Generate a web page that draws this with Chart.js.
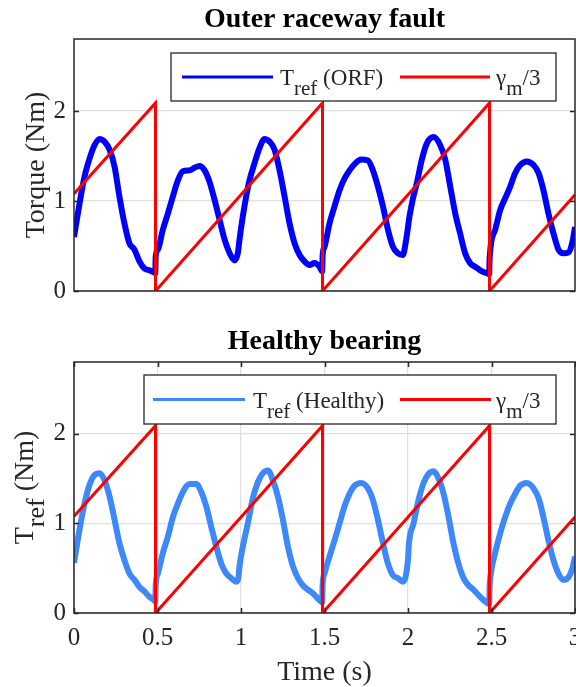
<!DOCTYPE html>
<html>
<head>
<meta charset="utf-8">
<script src="https://cdn.jsdelivr.net/npm/chart.js@4.4.1/dist/chart.umd.min.js"></script>
<style>
  html, body { margin: 0; padding: 0; background: #fff; }
  #wrap { position: relative; width: 576px; height: 687px; }
  canvas { position: absolute; left: 0; }
</style>
</head>
<body>
<div id="wrap">
  <canvas id="orf-chart" width="576" height="320" style="top:0px"></canvas>
  <canvas id="healthy-chart" width="576" height="367" style="top:320px"></canvas>
</div>
<script>
// tick values
const xTicks = [0, 0.5, 1, 1.5, 2, 2.5, 3];
const yTicks = [0, 1, 2];

// gamma_m / 3 sawtooth [time s, value]
const gammaTrace = [[0, 1.08], [0.488, 2.09], [0.488, 0], [1.488, 2.09], [1.488, 0], [2.488, 2.09], [2.488, 0], [3, 1.07]];

// T_ref with outer raceway fault [time s, torque Nm]
const orfTrace = [
  [0, 0.60], [0.033, 0.97], [0.063, 1.27], [0.093, 1.47], [0.123, 1.62], [0.153, 1.69], [0.183, 1.66], [0.213, 1.57],
  [0.243, 1.38], [0.272, 1.05], [0.302, 0.75], [0.332, 0.53], [0.362, 0.46], [0.392, 0.33], [0.422, 0.25], [0.452, 0.23],
  [0.476, 0.21], [0.487, 0.20], [0.489, 0.38], [0.502, 0.46], [0.532, 0.68], [0.562, 0.86], [0.592, 1.05], [0.622, 1.23],
  [0.652, 1.33], [0.692, 1.34], [0.722, 1.37], [0.752, 1.39], [0.782, 1.34], [0.812, 1.21], [0.842, 1.01], [0.872, 0.79],
  [0.902, 0.57], [0.932, 0.42], [0.961, 0.34], [0.981, 0.42], [0.991, 0.57], [1.011, 0.83], [1.031, 1.05], [1.051, 1.23],
  [1.081, 1.42], [1.111, 1.59], [1.141, 1.69], [1.171, 1.66], [1.201, 1.57], [1.231, 1.34], [1.261, 1.05], [1.291, 0.75],
  [1.321, 0.53], [1.351, 0.40], [1.380, 0.33], [1.410, 0.29], [1.440, 0.31], [1.470, 0.27], [1.486, 0.22], [1.489, 0.40],
  [1.500, 0.49], [1.530, 0.75], [1.560, 0.94], [1.590, 1.12], [1.620, 1.25], [1.650, 1.34], [1.680, 1.41], [1.720, 1.46],
  [1.760, 1.45], [1.790, 1.34], [1.820, 1.16], [1.850, 0.94], [1.880, 0.68], [1.910, 0.49], [1.939, 0.42], [1.969, 0.40],
  [1.989, 0.57], [2.009, 0.83], [2.030, 1.03], [2.053, 1.20], [2.083, 1.46], [2.113, 1.64], [2.153, 1.71], [2.193, 1.62],
  [2.223, 1.46], [2.253, 1.16], [2.283, 0.86], [2.312, 0.64], [2.342, 0.42], [2.372, 0.31], [2.402, 0.27], [2.432, 0.23],
  [2.468, 0.20], [2.486, 0.19], [2.489, 0.37], [2.522, 0.68], [2.552, 0.90], [2.582, 1.03], [2.612, 1.16], [2.642, 1.31],
  [2.672, 1.40], [2.712, 1.44], [2.752, 1.40], [2.782, 1.31], [2.811, 1.12], [2.841, 0.86], [2.871, 0.64], [2.901, 0.46],
  [2.931, 0.42], [2.961, 0.43], [2.985, 0.55], [3.000, 0.71]
];

// T_ref healthy bearing [time s, torque Nm]
const healthyTrace = [
  [0, 0.56], [0.033, 0.93], [0.063, 1.22], [0.093, 1.43], [0.123, 1.54], [0.153, 1.56], [0.183, 1.48], [0.213, 1.30],
  [0.243, 1.04], [0.272, 0.78], [0.302, 0.59], [0.332, 0.44], [0.362, 0.37], [0.392, 0.29], [0.422, 0.24], [0.452, 0.18],
  [0.476, 0.15], [0.487, 0.13], [0.489, 0.30], [0.502, 0.44], [0.532, 0.67], [0.562, 0.85], [0.592, 1.07], [0.622, 1.22],
  [0.652, 1.35], [0.692, 1.44], [0.732, 1.44], [0.762, 1.35], [0.792, 1.19], [0.822, 0.96], [0.852, 0.74], [0.882, 0.55],
  [0.912, 0.44], [0.941, 0.39], [0.971, 0.35], [0.985, 0.40], [0.991, 0.52], [1.011, 0.74], [1.041, 1.00], [1.071, 1.28],
  [1.101, 1.46], [1.131, 1.56], [1.161, 1.59], [1.191, 1.48], [1.221, 1.30], [1.251, 1.04], [1.281, 0.74], [1.311, 0.52],
  [1.341, 0.39], [1.370, 0.31], [1.400, 0.26], [1.430, 0.22], [1.466, 0.15], [1.486, 0.12], [1.489, 0.32], [1.500, 0.44],
  [1.530, 0.63], [1.560, 0.81], [1.590, 1.00], [1.620, 1.19], [1.650, 1.33], [1.680, 1.42], [1.720, 1.45], [1.760, 1.39],
  [1.790, 1.26], [1.820, 1.04], [1.850, 0.78], [1.880, 0.55], [1.910, 0.42], [1.939, 0.39], [1.969, 0.35], [1.985, 0.40],
  [2.000, 0.60], [2.006, 0.78], [2.033, 1.00], [2.063, 1.26], [2.093, 1.45], [2.123, 1.55], [2.153, 1.58], [2.183, 1.50],
  [2.213, 1.33], [2.243, 1.07], [2.272, 0.78], [2.302, 0.55], [2.332, 0.39], [2.362, 0.31], [2.392, 0.26], [2.422, 0.20],
  [2.462, 0.13], [2.486, 0.10], [2.489, 0.30], [2.496, 0.44], [2.522, 0.67], [2.552, 0.89], [2.582, 1.07], [2.612, 1.22],
  [2.642, 1.33], [2.672, 1.42], [2.712, 1.45], [2.752, 1.39], [2.782, 1.28], [2.811, 1.07], [2.841, 0.81], [2.871, 0.59],
  [2.901, 0.44], [2.931, 0.37], [2.961, 0.40], [2.985, 0.50], [3.000, 0.63]
];

const FONT = '"Liberation Serif", "Times New Roman", serif';
const INK = '#262626';
const GRID = '#dfdfdf';

Chart.defaults.font.family = FONT;
Chart.defaults.color = INK;

function toPoints(trace) {
  return trace.map(p => ({ x: p[0], y: p[1] }));
}

// draws text pieces, some of them as subscripts, returns end x
function drawRich(ctx, parts, x, y, size, subSize, subDrop) {
  parts.forEach(p => {
    ctx.font = (p.sub ? subSize : size) + 'px ' + FONT;
    ctx.fillText(p.t, x, p.sub ? y + subDrop : y);
    x += ctx.measureText(p.t).width;
  });
  return x;
}

function richWidth(ctx, parts, size, subSize) {
  let w = 0;
  parts.forEach(p => {
    ctx.font = (p.sub ? subSize : size) + 'px ' + FONT;
    w += ctx.measureText(p.t).width;
  });
  return w;
}

// matlab-like box, inward ticks, titles and legend
const axesDecor = {
  id: 'axesDecor',
  afterDatasetsDraw(chart, args, opts) {
    const ctx = chart.ctx;
    const a = chart.chartArea;
    const x = chart.scales.x;
    const y = chart.scales.y;
    const cx = (a.left + a.right) / 2;
    ctx.save();

    // legend box
    const lg = opts.legend;
    ctx.fillStyle = '#fff';
    ctx.fillRect(lg.box[0], lg.box[1], lg.box[2] - lg.box[0], lg.box[3] - lg.box[1]);
    ctx.strokeStyle = INK;
    ctx.lineWidth = 1.3;
    ctx.strokeRect(lg.box[0], lg.box[1], lg.box[2] - lg.box[0], lg.box[3] - lg.box[1]);
    const midY = (lg.box[1] + lg.box[3]) / 2;
    lg.items.forEach(it => {
      ctx.strokeStyle = it.color;
      ctx.lineWidth = 3;
      ctx.beginPath();
      ctx.moveTo(it.line[0], midY);
      ctx.lineTo(it.line[1], midY);
      ctx.stroke();
      ctx.fillStyle = INK;
      ctx.textAlign = 'left';
      ctx.textBaseline = 'alphabetic';
      drawRich(ctx, it.parts, it.textX, midY + 8, 23, 21, 10);
    });

    // box around plot
    ctx.strokeStyle = INK;
    ctx.lineWidth = 1.5;
    ctx.strokeRect(a.left, a.top, a.right - a.left, a.bottom - a.top);

    // inward tick marks
    ctx.beginPath();
    yTicks.forEach(v => {
      const py = Math.round(y.getPixelForValue(v)) + 0.5;
      ctx.moveTo(a.left, py); ctx.lineTo(a.left + 5, py);
      ctx.moveTo(a.right, py); ctx.lineTo(a.right - 5, py);
    });
    if (opts.xTickMarks) {
      xTicks.forEach(v => {
        const px = Math.round(x.getPixelForValue(v)) + 0.5;
        ctx.moveTo(px, a.bottom); ctx.lineTo(px, a.bottom - 5);
        ctx.moveTo(px, a.top); ctx.lineTo(px, a.top + 5);
      });
    }
    ctx.stroke();

    // title
    ctx.fillStyle = '#000';
    ctx.textAlign = 'center';
    ctx.textBaseline = 'alphabetic';
    ctx.font = 'bold 28px ' + FONT;
    ctx.fillText(opts.title, cx, opts.titleY);

    // y axis title, rotated
    ctx.fillStyle = INK;
    ctx.textAlign = 'left';
    const w = richWidth(ctx, opts.yTitle, 28, 26);
    ctx.translate(opts.yTitleX, (a.top + a.bottom) / 2);
    ctx.rotate(-Math.PI / 2);
    drawRich(ctx, opts.yTitle, -w / 2, 0, 28, 26, 11);
    ctx.setTransform(1, 0, 0, 1, 0, 0);

    // x axis title
    if (opts.xTitle) {
      ctx.textAlign = 'center';
      ctx.font = '28px ' + FONT;
      ctx.fillText(opts.xTitle, cx, opts.xTitleY);
    }
    ctx.restore();
  }
};

function makeScales(showX) {
  return {
    x: {
      type: 'linear',
      min: 0,
      max: 3,
      display: showX,
      afterBuildTicks: s => { s.ticks = xTicks.map(v => ({ value: v })); },
      afterFit: s => {
        s.height = showX ? 74 : 0;
        s.paddingLeft = 0;
        s.paddingRight = 0;
      },
      grid: { color: GRID, lineWidth: 1.2, drawTicks: false },
      border: { display: false },
      ticks: { padding: 10, font: { size: 25 }, color: INK, maxRotation: 0, callback: v => String(v) }
    },
    y: {
      type: 'linear',
      min: 0,
      max: 2.8,
      afterBuildTicks: s => { s.ticks = yTicks.map(v => ({ value: v })); },
      afterFit: s => {
        s.width = 74;
        s.paddingTop = 0;
        s.paddingBottom = 0;
      },
      grid: { color: GRID, lineWidth: 1.2, drawTicks: false },
      border: { display: false },
      ticks: { padding: 8, font: { size: 25 }, color: INK, callback: v => String(v) }
    }
  };
}

function renderPanel(id, trace, color, cfg) {
  const ctx = document.getElementById(id).getContext('2d');
  new Chart(ctx, {
    type: 'line',
    data: {
      datasets: [
        {
          label: 'T_ref',
          data: toPoints(trace),
          borderColor: color,
          borderWidth: 6,
          pointRadius: 0,
          cubicInterpolationMode: 'monotone',
          order: 2
        },
        {
          label: 'gamma_m/3',
          data: toPoints(gammaTrace),
          borderColor: '#ff0000',
          borderWidth: 3,
          pointRadius: 0,
          tension: 0,
          order: 1
        }
      ]
    },
    options: {
      responsive: false,
      animation: false,
      devicePixelRatio: 1,
      layout: { padding: cfg.padding },
      scales: makeScales(cfg.showX),
      plugins: {
        legend: { display: false },
        tooltip: { enabled: false },
        axesDecor: cfg.decor
      }
    },
    plugins: [axesDecor]
  });
}

// top panel: outer raceway fault
renderPanel('orf-chart', orfTrace, '#0000ff', {
  showX: false,
  padding: { left: 0, right: 1, top: 39, bottom: 29 },
  decor: {
    title: 'Outer raceway fault',
    titleY: 27,
    yTitle: [{ t: 'Torque (Nm)' }],
    yTitleX: 44,
    xTickMarks: false,
    legend: {
      box: [171, 53, 556, 101],
      items: [
        { color: '#0000ff', line: [182, 273], textX: 280, parts: [{ t: 'T' }, { t: 'ref', sub: true }, { t: ' (ORF)' }] },
        { color: '#ff0000', line: [400, 490], textX: 496, parts: [{ t: 'γ' }, { t: 'm', sub: true }, { t: '/3' }] }
      ]
    }
  }
});

// bottom panel: healthy bearing
renderPanel('healthy-chart', healthyTrace, '#3d88fa', {
  showX: true,
  padding: { left: 0, right: 1, top: 42, bottom: 0 },
  decor: {
    title: 'Healthy bearing',
    titleY: 29,
    yTitle: [{ t: 'T' }, { t: 'ref', sub: true }, { t: ' (Nm)' }],
    yTitleX: 33,
    xTickMarks: true,
    xTitle: 'Time (s)',
    xTitleY: 360,
    legend: {
      box: [144, 55, 556, 104],
      items: [
        { color: '#3d88fa', line: [153, 245], textX: 253, parts: [{ t: 'T' }, { t: 'ref', sub: true }, { t: ' (Healthy)' }] },
        { color: '#ff0000', line: [400, 491], textX: 496, parts: [{ t: 'γ' }, { t: 'm', sub: true }, { t: '/3' }] }
      ]
    }
  }
});
</script>
</body>
</html>
